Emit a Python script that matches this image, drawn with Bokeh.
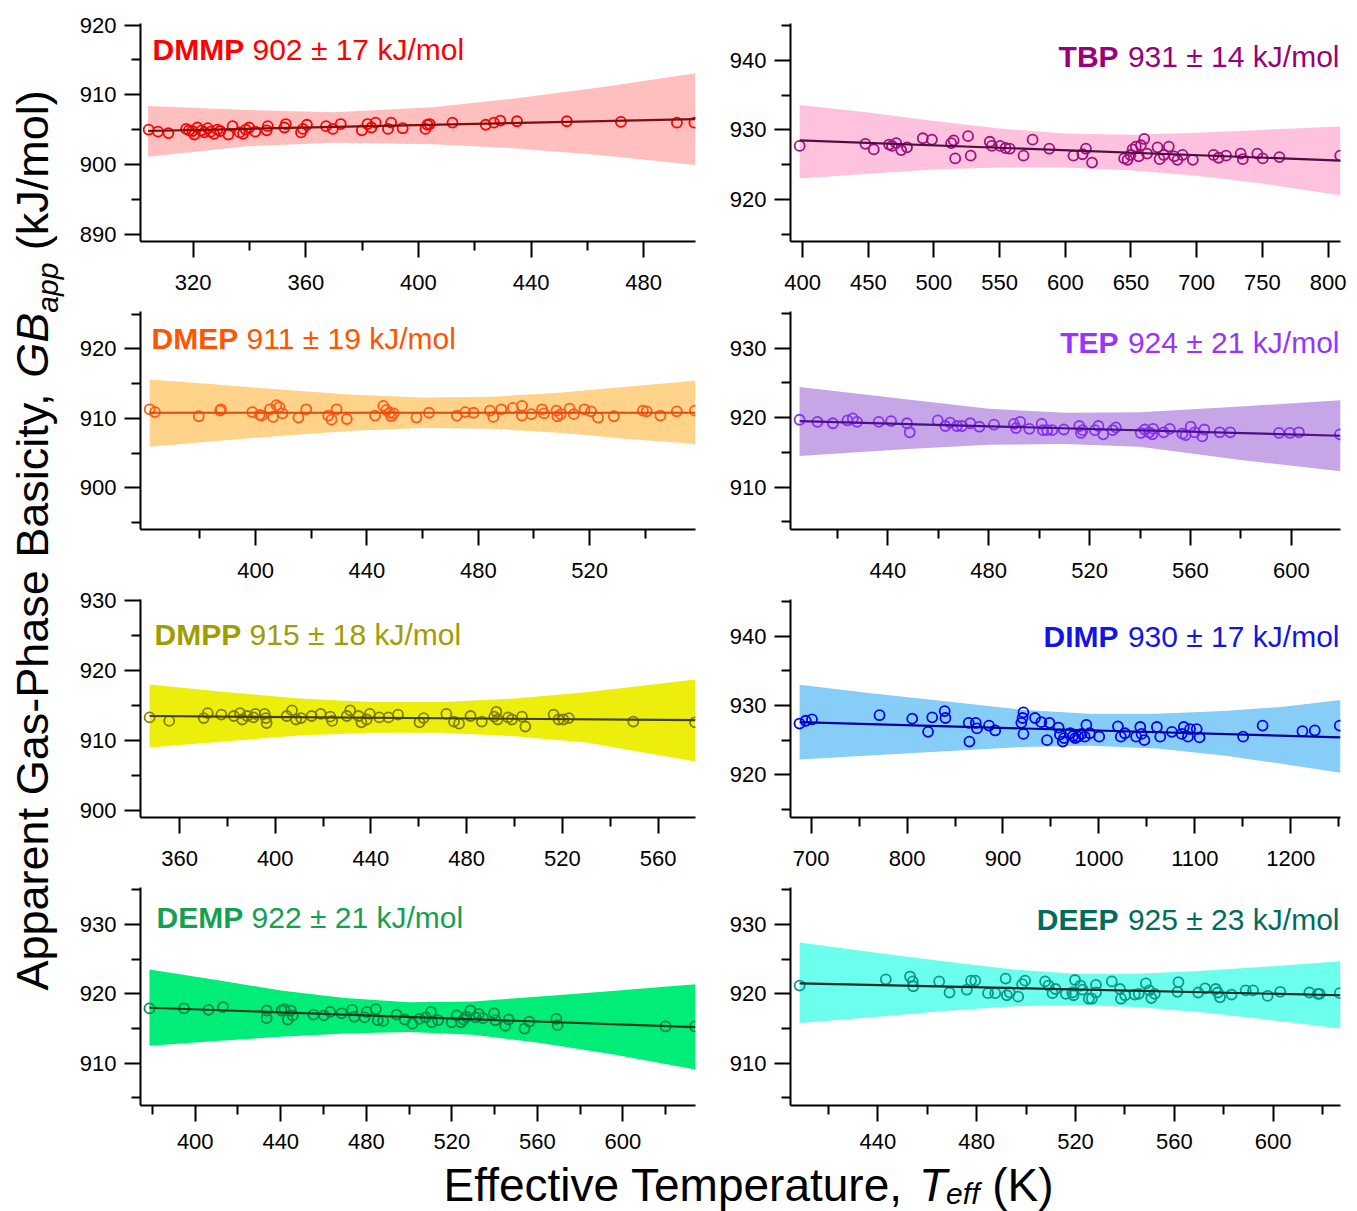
import math
from bokeh.plotting import figure
from bokeh.layouts import row, column
from bokeh.models import Range1d, FixedTicker, Label
from bokeh.embed import file_html
from bokeh.resources import INLINE
from bokeh.core.properties import value

FONT = "Liberation Sans"

# ---------------- data ----------------
dmmp_T = [304.2, 307.5, 311.2, 317.5, 318.5, 319.7, 320.4, 321.5, 323.0, 324.0, 325.2, 326.2, 327.4, 328.6, 329.6,
          332.5, 334.0, 336.5, 337.7, 338.7, 339.9, 342.1, 346.1, 346.5, 352.4, 352.9, 358.3, 359.0, 360.4, 367.2,
          369.6, 372.4, 379.9, 381.9, 383.3, 384.8, 389.2, 390.3, 394.4, 402.5, 403.2, 404.0, 412.1, 423.9, 426.8,
          429.1, 435.0, 452.7, 471.9, 491.8, 498.0]
dmmp_GB = [905.0, 904.7, 904.5, 905.1, 904.9, 904.8, 904.3, 905.3, 904.9, 904.6, 905.2, 904.7, 904.4, 905.0, 904.8,
           904.3, 905.5, 904.6, 904.4, 905.0, 905.3, 904.7, 904.9, 905.5, 905.3, 905.8, 904.6, 905.1, 905.7, 905.5,
           905.1, 905.8, 904.9, 905.8, 905.3, 906.0, 905.1, 906.0, 905.2, 905.1, 905.7, 905.8, 906.0, 905.7, 906.0,
           906.3, 906.2, 906.2, 906.1, 906.0, 906.0]
dmmp_fit_T = [304.0, 498.4]
dmmp_fit_GB = [904.8, 906.5]
dmmp_band_T = [304.0, 339.0, 370.0, 405.0, 435.0, 465.0, 498.4]
dmmp_band_hi = [908.4, 907.8, 907.5, 908.2, 909.5, 911.1, 913.1]
dmmp_band_lo = [901.1, 902.6, 903.1, 902.9, 902.3, 901.3, 899.9]

tbp_T = [397.8, 447.8, 454.2, 465.9, 468.1, 471.3, 475.1, 479.5, 491.5, 498.5, 513.1, 515.0, 516.2, 526.0, 528.0,
         542.5, 544.1, 550.4, 554.5, 557.7, 568.2, 575.1, 587.8, 606.2, 613.1, 615.7, 620.4, 644.8, 647.4, 649.6,
         651.2, 653.7, 655.9, 657.5, 660.1, 662.3, 670.2, 671.8, 675.0, 678.8, 682.9, 685.4, 689.2, 697.1, 712.9,
         716.7, 722.4, 733.5, 735.1, 746.2, 750.3, 763.0, 809.3]
tbp_GB = [927.7, 928.0, 927.2, 927.9, 927.7, 928.1, 927.1, 927.5, 928.8, 928.6, 928.1, 928.5, 925.9, 929.1, 926.3,
          928.3, 927.7, 927.7, 927.4, 927.3, 926.3, 928.6, 927.3, 926.3, 926.5, 927.3, 925.3, 925.9, 925.7, 926.4,
          927.2, 927.6, 926.2, 927.8, 928.7, 926.6, 927.5, 925.8, 926.4, 927.6, 926.2, 925.7, 926.4, 925.7, 926.4,
          926.0, 926.3, 926.6, 925.8, 926.6, 925.9, 926.1, 926.3]
tbp_fit_T = [397.8, 809.5]
tbp_fit_GB = [928.5, 925.6]
tbp_band_T = [397.8, 450.0, 500.0, 550.0, 600.0, 650.0, 700.0, 750.0, 809.5]
tbp_band_hi = [933.6, 932.5, 931.3, 930.2, 929.5, 929.3, 929.6, 930.0, 930.5]
tbp_band_lo = [923.0, 923.7, 924.3, 924.6, 924.6, 924.2, 923.4, 922.3, 920.6]

dmep_T = [362.0, 363.9, 379.6, 387.3, 387.6, 398.8, 401.5, 402.2, 405.2, 406.3, 407.5, 408.6, 409.7, 415.4, 418.2,
          426.1, 427.3, 429.1, 432.8, 442.9, 445.9, 447.0, 448.2, 448.7, 449.6, 457.8, 462.3, 472.3, 475.3, 478.3,
          484.2, 485.4, 488.3, 492.4, 495.7, 495.7, 499.1, 502.9, 503.6, 508.1, 508.4, 509.6, 512.8, 514.3, 518.1,
          520.5, 523.0, 528.7, 539.1, 540.5, 545.4, 551.3, 557.8]
dmep_GB = [911.3, 910.9, 910.3, 911.1, 911.3, 910.9, 910.5, 910.4, 911.3, 910.2, 911.9, 911.6, 910.7, 910.1, 911.3,
           910.4, 909.8, 911.3, 909.9, 910.4, 911.8, 911.2, 910.8, 910.3, 910.7, 910.1, 910.8, 910.4, 910.9, 910.8,
           911.1, 910.2, 911.3, 911.5, 911.8, 910.4, 910.6, 911.3, 910.7, 911.1, 910.3, 910.6, 911.4, 910.6, 911.3,
           911.0, 910.1, 910.3, 911.1, 911.0, 910.4, 911.0, 911.1]
dmep_fit_T = [362.0, 558.0]
dmep_fit_GB = [910.8, 910.8]
dmep_band_T = [362.0, 385.0, 410.0, 435.0, 460.0, 485.0, 510.0, 535.0, 558.0]
dmep_band_hi = [915.6, 914.9, 914.1, 913.4, 913.0, 913.1, 913.7, 914.6, 915.4]
dmep_band_lo = [905.9, 906.7, 907.5, 908.2, 908.6, 908.5, 907.9, 907.0, 906.3]

tep_T = [405.0, 412.1, 418.2, 424.0, 426.1, 427.8, 436.4, 441.3, 447.6, 448.7, 459.8, 462.8, 464.7, 467.4, 469.4,
         472.7, 476.3, 482.1, 490.0, 490.8, 492.5, 496.1, 501.0, 501.5, 503.2, 505.2, 509.8, 515.9, 516.6, 517.2,
         522.1, 523.5, 525.4, 529.2, 530.4, 540.3, 541.9, 543.6, 544.9, 545.2, 549.4, 551.8, 556.8, 558.1, 560.1,
         561.7, 564.7, 565.5, 571.6, 575.8, 595.1, 599.4, 603.0, 619.3]
tep_GB = [919.7, 919.4, 919.2, 919.6, 919.9, 919.4, 919.4, 919.5, 919.2, 917.9, 919.6, 918.8, 919.3, 918.8, 918.8,
          919.2, 918.7, 919.0, 919.1, 918.5, 919.4, 918.4, 919.1, 918.2, 918.2, 918.2, 918.3, 918.8, 917.8, 918.2,
          918.2, 918.8, 917.6, 918.2, 918.6, 917.8, 918.3, 917.9, 917.6, 918.4, 917.9, 918.4, 917.7, 917.5, 918.7,
          917.9, 917.3, 918.3, 917.9, 917.9, 917.8, 917.8, 917.9, 917.6]
tep_fit_T = [405.0, 619.5]
tep_fit_GB = [919.5, 917.4]
tep_band_T = [405.0, 448.0, 480.0, 510.0, 540.0, 580.0, 619.5]
tep_band_hi = [924.4, 922.6, 921.3, 920.7, 920.8, 921.6, 922.5]
tep_band_lo = [914.5, 915.5, 916.1, 916.2, 915.8, 913.9, 912.3]

dmpp_T = [347.5, 355.7, 370.1, 371.8, 377.5, 382.7, 385.3, 386.2, 388.3, 390.9, 391.7, 395.6, 396.1, 396.4, 404.8,
          407.0, 408.7, 410.8, 415.2, 419.0, 423.0, 423.8, 429.9, 431.3, 434.8, 436.0, 438.2, 439.5, 443.5, 447.3,
          451.3, 460.3, 462.0, 471.5, 474.7, 476.8, 481.6, 486.3, 491.5, 492.4, 492.9, 497.3, 498.9, 503.1, 504.5,
          516.3, 518.4, 520.4, 522.7, 549.6, 575.4]
dmpp_GB = [913.3, 912.8, 913.2, 913.9, 913.7, 913.5, 913.9, 913.0, 913.5, 913.3, 913.8, 913.8, 913.2, 912.5, 913.5,
           914.3, 913.0, 913.2, 913.5, 913.8, 913.4, 912.8, 913.5, 914.3, 913.5, 912.6, 913.0, 913.8, 913.3, 913.3,
           913.7, 912.6, 913.2, 913.8, 912.7, 912.4, 913.5, 912.7, 913.4, 914.1, 913.0, 913.3, 913.0, 913.4, 912.0,
           913.7, 913.0, 913.0, 913.2, 912.7, 912.6]
dmpp_fit_T = [347.5, 575.6]
dmpp_fit_GB = [913.5, 912.9]
dmpp_band_T = [347.5, 380.0, 410.0, 440.0, 470.0, 500.0, 530.0, 575.6]
dmpp_band_hi = [918.0, 916.9, 916.0, 915.5, 915.5, 916.0, 916.9, 918.7]
dmpp_band_lo = [909.0, 909.9, 910.7, 911.1, 911.1, 910.6, 909.7, 907.0]

dimp_T = [687.9, 694.4, 700.9, 771.3, 805.4, 821.9, 826.2, 839.2, 840.0, 864.2, 865.0, 871.6, 872.9, 885.4, 891.9,
          919.1, 920.4, 921.3, 921.3, 933.4, 939.9, 945.9, 948.5, 958.0, 959.3, 962.3, 963.6, 970.1, 973.1, 975.3,
          978.3, 981.8, 985.2, 986.9, 990.4, 1000.3, 1019.8, 1022.8, 1027.1, 1038.8, 1043.1, 1044.4, 1047.4, 1060.4,
          1063.9, 1076.0, 1086.3, 1088.5, 1092.8, 1095.0, 1101.9, 1104.9, 1150.3, 1170.6, 1212.1, 1225.0, 1251.0]
dimp_GB = [927.4, 927.8, 928.0, 928.6, 928.1, 926.2, 928.3, 929.2, 928.2, 927.5, 924.8, 927.5, 926.7, 927.1, 926.4,
           927.5, 928.2, 929.0, 925.9, 928.2, 927.6, 925.0, 927.5, 926.8, 925.8, 924.8, 925.3, 926.0, 925.6, 925.3,
           925.5, 925.9, 925.5, 927.2, 926.0, 925.5, 927.0, 925.5, 926.0, 925.5, 926.9, 925.9, 925.0, 926.9,
           925.5, 926.2, 925.9, 926.9, 925.5, 926.6, 926.6, 925.4, 925.5, 927.1, 926.3, 926.4, 927.1]
dimp_fit_T = [688.0, 1251.8]
dimp_fit_GB = [927.6, 925.4]
dimp_band_T = [688.0, 760.0, 840.0, 920.0, 990.0, 1060.0, 1130.0, 1190.0, 1251.8]
dimp_band_hi = [933.0, 931.8, 930.6, 929.4, 928.8, 928.8, 929.2, 929.8, 930.8]
dimp_band_lo = [922.2, 922.8, 923.4, 924.0, 924.2, 923.8, 922.8, 921.6, 920.3]

demp_T = [378.6, 394.8, 406.2, 413.0, 433.4, 433.4, 440.4, 441.7, 443.3, 444.7, 445.6, 455.3, 460.2, 463.1, 468.5,
          473.4, 474.4, 479.2, 480.2, 484.5, 485.4, 487.9, 494.2, 498.0, 501.6, 504.9, 507.8, 510.3, 510.7, 513.6,
          520.0, 522.3, 524.3, 525.6, 526.8, 528.7, 531.1, 532.6, 534.6, 539.8, 540.4, 545.0, 546.6, 554.0, 556.3,
          568.9, 569.5, 620.0, 633.8]
demp_GB = [917.9, 917.9, 917.7, 918.1, 917.6, 916.5, 917.6, 917.8, 916.3, 917.6, 916.9, 917.0, 916.9, 917.4, 917.2,
           917.7, 916.7, 916.6, 917.4, 917.8, 916.2, 916.1, 917.0, 916.3, 915.7, 916.4, 916.6, 917.4, 915.9, 916.2,
           915.9, 916.9, 915.9, 916.3, 916.7, 917.6, 916.6, 917.1, 916.5, 917.2, 916.2, 915.4, 916.3, 915.0, 916.0,
           916.4, 915.5, 915.3, 915.3]
demp_fit_T = [378.6, 634.0]
demp_fit_GB = [918.0, 915.2]
demp_band_T = [378.6, 410.0, 440.0, 470.0, 500.0, 530.0, 560.0, 595.0, 634.0]
demp_band_hi = [923.5, 922.0, 920.5, 919.4, 918.8, 918.9, 919.6, 920.4, 921.4]
demp_band_lo = [912.5, 913.2, 913.8, 914.3, 914.5, 914.1, 913.0, 911.3, 909.1]

deep_T = [408.3, 443.2, 453.0, 454.1, 454.3, 464.8, 469.0, 476.0, 477.7, 479.4, 484.6, 487.5, 491.7, 492.2, 493.4,
          496.8, 498.4, 499.6, 507.7, 509.1, 510.7, 511.9, 516.1, 518.7, 519.2, 519.8, 522.0, 522.9, 525.4, 526.6,
          528.3, 528.3, 534.7, 538.0, 538.4, 540.1, 544.0, 545.6, 548.5, 549.9, 550.7, 552.1, 561.3, 561.7, 569.7,
          572.5, 576.8, 577.6, 578.5, 583.2, 588.9, 591.9, 597.8, 602.9, 614.7, 618.1, 618.9, 627.0]
deep_GB = [921.2, 922.1, 922.5, 921.8, 921.1, 921.8, 920.2, 920.6, 921.9, 921.9, 920.1, 920.1, 922.2, 919.8, 920.2,
           919.6, 921.4, 921.9, 921.8, 921.2, 920.1, 920.7, 920.0, 920.2, 919.8, 922.0, 921.2, 920.6, 919.3, 919.3,
           920.2, 921.3, 921.8, 920.7, 919.3, 919.8, 919.9, 920.0, 921.5, 920.5, 919.4, 920.0, 920.3, 921.7, 920.2,
           920.8, 920.7, 920.2, 919.5, 919.9, 920.5, 920.5, 919.7, 920.3, 920.2, 920.0, 920.0, 920.1]
deep_fit_T = [408.3, 627.3]
deep_fit_GB = [921.5, 919.8]
deep_band_T = [408.3, 440.0, 469.0, 495.0, 520.0, 545.0, 570.0, 600.0, 627.3]
deep_band_hi = [927.4, 925.9, 924.6, 923.5, 922.9, 922.9, 923.3, 924.0, 924.7]
deep_band_lo = [915.8, 916.7, 917.6, 918.2, 918.4, 918.1, 917.4, 916.2, 915.0]

compounds = ["DMMP", "TBP", "DMEP", "TEP", "DMPP", "DIMP", "DEMP", "DEEP"]
gb_labels = ["902 ± 17 kJ/mol", "931 ± 14 kJ/mol", "911 ± 19 kJ/mol", "924 ± 21 kJ/mol",
             "915 ± 18 kJ/mol", "930 ± 17 kJ/mol", "922 ± 21 kJ/mol", "925 ± 23 kJ/mol"]

series = {
    "DMMP": (dmmp_T, dmmp_GB, dmmp_fit_T, dmmp_fit_GB, dmmp_band_T, dmmp_band_lo, dmmp_band_hi),
    "TBP": (tbp_T, tbp_GB, tbp_fit_T, tbp_fit_GB, tbp_band_T, tbp_band_lo, tbp_band_hi),
    "DMEP": (dmep_T, dmep_GB, dmep_fit_T, dmep_fit_GB, dmep_band_T, dmep_band_lo, dmep_band_hi),
    "TEP": (tep_T, tep_GB, tep_fit_T, tep_fit_GB, tep_band_T, tep_band_lo, tep_band_hi),
    "DMPP": (dmpp_T, dmpp_GB, dmpp_fit_T, dmpp_fit_GB, dmpp_band_T, dmpp_band_lo, dmpp_band_hi),
    "DIMP": (dimp_T, dimp_GB, dimp_fit_T, dimp_fit_GB, dimp_band_T, dimp_band_lo, dimp_band_hi),
    "DEMP": (demp_T, demp_GB, demp_fit_T, demp_fit_GB, demp_band_T, demp_band_lo, demp_band_hi),
    "DEEP": (deep_T, deep_GB, deep_fit_T, deep_fit_GB, deep_band_T, deep_band_lo, deep_band_hi),
}

# ---------------- styles / layout ----------------
def rng(a, b, s):
    return [a + i * s for i in range(int(round((b - a) / s)) + 1)]

styles = {
    "DMMP": dict(text="#FF0000", pt="#FF0000", line="#7B1010", band="#FFBFBF",
                 xr=(301.3, 498.4), yr=(888.93, 920.24),
                 xmaj=rng(320, 480, 40), xmin=rng(340, 460, 40), ymaj=rng(890, 920, 10), ymin=rng(895, 915, 10),
                 side="left", dx=12, dy=37, bold_em=3.055),
    "TBP": dict(text="#99007A", pt="#A0107F", line="#4C0E40", band="#FFC2DE",
                xr=(390.8, 809.5), yr=(913.96, 945.3),
                xmaj=rng(400, 800, 50), xmin=[], ymaj=rng(920, 940, 10), ymin=rng(915, 945, 10),
                side="right", dx=-1, dy=44, bold_em=2.0),
    "DMEP": dict(text="#FF5500", pt="#FF5A1A", line="#E04A10", band="#FFD389",
                 xr=(358.7, 558.0), yr=(894.0, 925.37),
                 xmaj=rng(400, 520, 40), xmin=rng(380, 540, 40), ymaj=rng(900, 920, 10), ymin=rng(895, 925, 10),
                 side="left", dx=11, dy=38, bold_em=2.889),
    "TEP": dict(text="#9933FF", pt="#8830F5", line="#4A108A", band="#C6A6E6",
                xr=(401.4, 619.5), yr=(903.91, 935.28),
                xmaj=rng(440, 600, 40), xmin=rng(420, 580, 40), ymaj=rng(910, 930, 10), ymin=rng(905, 935, 10),
                side="right", dx=-1, dy=42, bold_em=1.945),
    "DMPP": dict(text="#9E9E00", pt="#7F7F00", line="#404010", band="#EEEE0C",
                 xr=(343.7, 575.6), yr=(899.0, 930.14),
                 xmaj=rng(360, 560, 40), xmin=rng(380, 540, 40), ymaj=rng(900, 930, 10), ymin=rng(905, 925, 10),
                 side="left", dx=14, dy=46, bold_em=2.889),
    "DIMP": dict(text="#1414E6", pt="#0000F0", line="#00009C", band="#86CEF8",
                 xr=(678.5, 1251.8), yr=(913.84, 945.3),
                 xmaj=rng(700, 1200, 100), xmin=rng(750, 1250, 100), ymaj=rng(920, 940, 10), ymin=rng(915, 945, 10),
                 side="right", dx=-1, dy=48, bold_em=2.5),
    "DEMP": dict(text="#14A050", pt="#0A8C42", line="#103A20", band="#00EE78",
                 xr=(374.4, 634.0), yr=(903.9, 935.34),
                 xmaj=rng(400, 600, 40), xmin=rng(380, 620, 40), ymaj=rng(910, 930, 10), ymin=rng(905, 935, 10),
                 side="left", dx=16, dy=41, bold_em=2.889),
    "DEEP": dict(text="#006B60", pt="#0B9A8A", line="#122C2A", band="#6CFFEE",
                 xr=(404.6, 627.3), yr=(903.9, 935.34),
                 xmaj=rng(440, 600, 40), xmin=rng(420, 620, 40), ymaj=rng(910, 930, 10), ymin=rng(905, 935, 10),
                 side="right", dx=-1, dy=43, bold_em=2.723),
}

LABEL_PX = 30
BASE_FIX = 0.36  # empirical correction of the rendered baseline (in em)
ROW_H = [301, 288, 288, 282]
ROW_TOP = [23, 10, 10, 10]
ROW_BOTTOM = [60, 60, 60, 54]
ROW_STANDOFF = [17, 17, 17, 12]


def make_panel(idx):
    name = compounds[idx]
    st = styles[name]
    T, GB, fT, fGB, bT, blo, bhi = series[name]
    n = min(len(T), len(GB))
    left = (idx % 2 == 0)
    r = idx // 2
    p = figure(width=650 if left else 633, height=ROW_H[r],
               output_backend="svg", toolbar_location=None, title=None,
               x_range=Range1d(*st["xr"]), y_range=Range1d(*st["yr"]),
               min_border_left=66, min_border_right=29 if left else 17,
               min_border_top=ROW_TOP[r], min_border_bottom=ROW_BOTTOM[r])
    p.outline_line_color = None
    p.xgrid.visible = False
    p.ygrid.visible = False
    p.background_fill_color = "white"
    p.border_fill_color = "white"

    p.varea(x=bT, y1=blo, y2=bhi, fill_color=st["band"], fill_alpha=1.0)
    p.scatter(x=T[:n], y=GB[:n], marker="circle", size=10, fill_color=None,
              line_color=st["pt"], line_width=1.8)
    p.line(x=fT, y=fGB, line_color=st["line"], line_width=2.2)

    for ax, maj, mn, so in ((p.xaxis[0], st["xmaj"], st["xmin"], ROW_STANDOFF[r]),
                            (p.yaxis[0], st["ymaj"], st["ymin"], 8)):
        ax.ticker = FixedTicker(ticks=maj, minor_ticks=mn)
        ax.axis_line_width = 2
        ax.axis_line_color = "black"
        ax.major_tick_line_width = 2
        ax.minor_tick_line_width = 2
        ax.major_tick_line_color = "black"
        ax.minor_tick_line_color = "black"
        ax.major_tick_out = 16
        ax.major_tick_in = 0
        ax.minor_tick_out = 9
        ax.minor_tick_in = 0
        ax.major_label_text_font = FONT
        ax.major_label_text_font_size = "22px"
        ax.major_label_text_color = "black"
        ax.major_label_standoff = so

    F = LABEL_PX
    sp = 0.278 * F
    vw = 7.087 * F
    nw = st["bold_em"] * F
    if st["side"] == "left":
        x0 = st["xr"][0]
        name_off = st["dx"]
        val_off = st["dx"] + nw + sp
        align = "left"
    else:
        x0 = st["xr"][1]
        val_off = st["dx"]
        name_off = st["dx"] - vw - sp
        align = "right"
    yoff = -st["dy"] + BASE_FIX * F
    p.add_layout(Label(x=x0, y=st["yr"][1], x_offset=name_off, y_offset=yoff, text=name,
                       text_font=FONT, text_font_size=f"{F}px", text_font_style="bold",
                       text_color=st["text"], text_align=align, text_baseline="alphabetic"))
    p.add_layout(Label(x=x0, y=st["yr"][1], x_offset=val_off, y_offset=yoff, text=gb_labels[idx],
                       text_font=FONT, text_font_size=f"{F}px", text_font_style="normal",
                       text_color=st["text"], text_align=align, text_baseline="alphabetic"))
    return p


panels = [make_panel(i) for i in range(8)]

GRID_H = sum(ROW_H)

# y-axis title
ylab = figure(width=74, height=GRID_H, output_backend="svg", toolbar_location=None, title=None,
              x_range=Range1d(0, 74), y_range=Range1d(0, GRID_H), min_border=0,
              x_axis_type=None, y_axis_type=None)
ylab.outline_line_color = None
YF = 45
yb = 48 - BASE_FIX * YF
yb_sub = 58 - BASE_FIX * 30
y0 = GRID_H - 990
y_gb = y0 + 13.339 * YF + 0.278 * YF
y_sub = y_gb + 1.445 * YF
y_unit = y_sub + 1.668 * 30 + 0.278 * YF
ylab.text(x=[yb], y=[y0], text=["Apparent Gas-Phase Basicity,"], angle=math.pi / 2,
          text_font=value(FONT), text_font_size=f"{YF}px", text_align="left", text_baseline="alphabetic",
          text_color="black")
ylab.text(x=[yb], y=[y_gb], text=["GB"], angle=math.pi / 2, text_font=value(FONT),
          text_font_size=f"{YF}px", text_font_style="italic", text_align="left",
          text_baseline="alphabetic", text_color="black")
ylab.text(x=[yb_sub], y=[y_sub], text=["app"], angle=math.pi / 2, text_font=value(FONT),
          text_font_size="30px", text_font_style="italic", text_align="left",
          text_baseline="alphabetic", text_color="black")
ylab.text(x=[yb], y=[y_unit], text=["(kJ/mol)"], angle=math.pi / 2, text_font=value(FONT),
          text_font_size=f"{YF}px", text_align="left", text_baseline="alphabetic", text_color="black")

# x-axis title
XH = 1211 - GRID_H
xlab = figure(width=1357, height=XH, output_backend="svg", toolbar_location=None, title=None,
              x_range=Range1d(0, 1357), y_range=Range1d(0, XH), min_border=0,
              x_axis_type=None, y_axis_type=None)
xlab.outline_line_color = None
XF = 46
xb = (1211 - 1201) + BASE_FIX * XF
xb_sub = (1211 - 1204) + BASE_FIX * 30
x0 = 443
x_T = x0 + (10.337 - 0.278) * XF + 0.278 * XF
x_sub = x_T + 0.611 * XF - 1
x_K = x_sub + 1.112 * 30 + 0.278 * XF
xlab.text(x=[x0], y=[xb], text=["Effective Temperature,"], text_font=value(FONT),
          text_font_size=f"{XF}px", text_align="left", text_baseline="alphabetic", text_color="black")
xlab.text(x=[x_T], y=[xb], text=["T"], text_font=value(FONT), text_font_size=f"{XF}px",
          text_font_style="italic", text_align="left", text_baseline="alphabetic", text_color="black")
xlab.text(x=[x_sub], y=[xb_sub], text=["eff"], text_font=value(FONT), text_font_size="30px",
          text_font_style="italic", text_align="left", text_baseline="alphabetic", text_color="black")
xlab.text(x=[x_K], y=[xb], text=["(K)"], text_font=value(FONT), text_font_size=f"{XF}px",
          text_align="left", text_baseline="alphabetic", text_color="black")

left_col = column(panels[0], panels[2], panels[4], panels[6])
right_col = column(panels[1], panels[3], panels[5], panels[7])
layout = column(row(ylab, row(left_col, right_col)), xlab)

open("out.html", "w").write(file_html(layout, INLINE))
